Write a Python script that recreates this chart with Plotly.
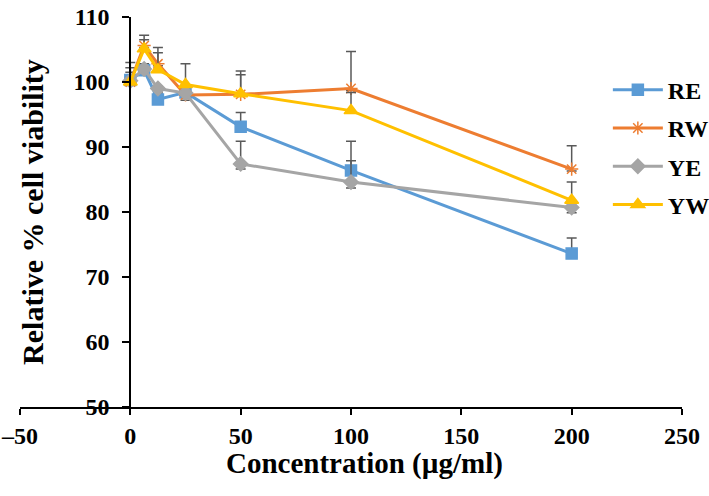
import plotly.graph_objects as go

# Concentrations (ug/ml)
conc = [0, 6.25, 12.5, 25, 50, 100, 200]

# Relative % cell viability per extract
re_vals = [100.3, 101.8, 97.3, 98.4, 93.1, 86.4, 73.6]
rw_vals = [100.0, 105.6, 102.8, 98.0, 98.1, 99.0, 86.6]
ye_vals = [100.2, 102.0, 99.0, 98.3, 87.4, 84.6, 80.7]
yw_vals = [100.0, 105.1, 101.9, 99.6, 98.2, 95.6, 81.8]

# error bars (upper / lower)
re_up = [1.2, 1.0, 1.0, 1.0, 2.2, 4.5, 2.4]
re_dn = [0.3, 0.3, 0.3, 0.3, 0.3, 0.3, 0.3]
rw_up = [2.2, 1.6, 2.5, 0.3, 3.6, 5.7, 3.6]
rw_dn = [0.3, 0.3, 0.3, 0.8, 0.3, 0.3, 0.3]
ye_up = [0.3, 0.3, 0.3, 0.3, 3.5, 3.3, 0.3]
ye_dn = [0.3, 0.3, 0.3, 0.3, 0.8, 0.9, 0.8]
yw_up = [3.0, 1.4, 2.6, 3.2, 2.9, 2.8, 2.8]
yw_dn = [0.3, 0.3, 0.3, 0.3, 0.3, 0.3, 0.3]

series = [
    ("RE", re_vals, re_up, re_dn, "#5B9BD5", "square", 11),
    ("RW", rw_vals, rw_up, rw_dn, "#ED7D31", "asterisk-open", 11),
    ("YE", ye_vals, ye_up, ye_dn, "#A5A5A5", "diamond", 11),
    ("YW", yw_vals, yw_up, yw_dn, "#FFC000", "triangle-up", 12),
]

serif = "Liberation Serif, Times New Roman, serif"

fig = go.Figure()
for name, vals, up, dn, color, sym, size in series:
    fig.add_trace(go.Scatter(
        x=conc, y=vals, name=name, mode="lines+markers",
        legendgroup=name,
        line=dict(color=color, width=3),
        marker=dict(symbol=sym, size=size, color=color,
                    line=dict(color=color, width=1.5)),
        error_y=dict(type="data", array=up, arrayminus=dn, symmetric=False,
                     color="#595959", thickness=1.5, width=5),
    ))

fig.update_layout(
    width=709, height=496,
    margin=dict(l=20, r=27, t=17, b=89, autoexpand=False),
    plot_bgcolor="white", paper_bgcolor="white",
    font=dict(family=serif, size=20, color="black", weight="bold"),
    showlegend=True,
    legend=dict(x=0.888, y=0.87, xanchor="left", yanchor="top",
                traceorder="grouped", tracegroupgap=4, itemwidth=50,
                font=dict(family=serif, size=24, weight="bold"),
                bgcolor="rgba(0,0,0,0)"),
    xaxis=dict(range=[-50, 250], tickvals=[-50, 0, 50, 100, 150, 200, 250],
               ticktext=["\u201350", "0", "50", "100", "150", "200", "250"],
               automargin=False, ticklabeloverflow="allow",
               showgrid=False, zeroline=False, showline=True,
               linecolor="black", linewidth=2,
               ticks="outside", ticklen=6, tickwidth=2, tickcolor="black",
               tickfont=dict(family=serif, size=24, weight="bold")),
    yaxis=dict(range=[50, 110], dtick=10, anchor="free", position=1/6,
               automargin=False, ticklabelstandoff=8,
               ticklabeloverflow="allow",
               showgrid=False, zeroline=False, showline=True,
               linecolor="black", linewidth=2,
               ticks="outside", ticklen=7, tickwidth=2, tickcolor="black",
               tickfont=dict(family=serif, size=24, weight="bold")),
)

fig.add_annotation(text="Relative % cell viability", textangle=-90,
                   xref="paper", yref="paper", x=0.018, y=0.5,
                   xanchor="center", yanchor="middle", showarrow=False,
                   font=dict(family=serif, size=30, weight="bold"))
fig.add_annotation(text="Concentration (\u00b5g/ml)",
                   xref="paper", yref="paper", x=0.521, y=-0.145,
                   xanchor="center", yanchor="middle", showarrow=False,
                   font=dict(family=serif, size=29, weight="bold"))

# drop the default 8px page margin so the figure fills the window
fig.write_html("out.html", config={"displayModeBar": False},
               post_script="document.body.style.margin='0';")
